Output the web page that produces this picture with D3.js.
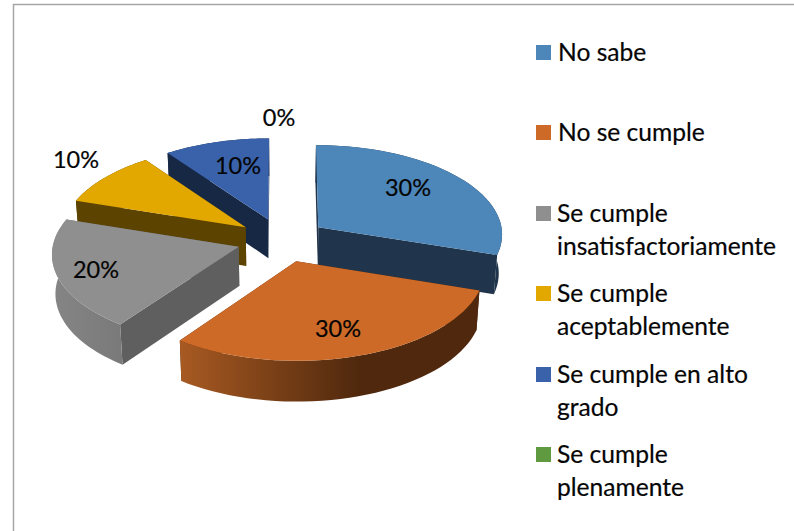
<!DOCTYPE html>
<html><head><meta charset="utf-8">
<script src="https://cdn.jsdelivr.net/npm/d3@7"></script>
<style>html,body{margin:0;background:#fff}svg{display:block}text{font-family:Lato,"Open Sans",sans-serif;fill:#050505;stroke:#050505;stroke-width:.2}</style>
</head><body><svg id="c" width="794" height="531"></svg>
<script>
const categories = ["No sabe","No se cumple","Se cumple insatisfactoriamente","Se cumple aceptablemente","Se cumple en alto grado","Se cumple plenamente"];
const values = [30,30,20,10,10,0];
const topColors = ["#4d86b9","#ce6a27","#8f8f8f","#e2a800","#3a62aa","#5f9a40"];
const faceColors = ["#20354b","#54290e","#5f5f5f","#5c4300","#172845","#2b4a1c"];
const wallShades = [["#20354b","#20354b"],["#a85a22","#4f280d"],["#858585","#7a7a7a"],["#5c4300","#5c4300"],["#172845","#172845"],["#2b4a1c","#2b4a1c"]];
const legendLines = [["No sabe"],["No se cumple"],["Se cumple","insatisfactoriamente"],["Se cumple","aceptablemente"],["Se cumple en alto","grado"],["Se cumple","plenamente"]];
const legendTop = [45,125,206,286,367,447];
const labelAt = [[408,188],[338,329],[96,270],[76,160],[238,166],[279,118]];
const paintOrder = [4,3,0,2,1];

const svg = d3.select("#c");
svg.append("path").attr("d","M13.5 531V4.5H794").attr("fill","none").attr("stroke","#a6a6a6").attr("stroke-width",1.5);

// Perspective view of the tilted disc; units are disc radii, z points away from the viewer.
const cx=282, cy=240, R=185, Ry=89.5, persp=0.07, burst=0.245, depth=39;
const project=(X,Z)=>{const w=1+persp*Z;return [cx+R*X/w, cy-Ry*Z/w];};
// The underside sits slightly further from the eye, so it narrows toward the centre.
const down=p=>[cx+(p[0]-cx)*0.985, p[1]+depth+(p[1]-cy)*0.015];

const pie=d3.pie().value(d=>d).sort(null);
const arcs=pie(values);
const defs=svg.append("defs");
const line=d3.line();

function outline(a){
  const mid=(a.startAngle+a.endAngle)/2, ox=burst*Math.sin(mid), oz=burst*Math.cos(mid);
  const pt=t=>project(ox+Math.sin(t),oz+Math.cos(t));
  const steps=d3.range(0,41).map(i=>a.startAngle+(a.endAngle-a.startAngle)*i/40);
  return {apex:project(ox,oz),rim:steps.map(pt)};
}

paintOrder.forEach(i=>{
  const o=outline(arcs[i]);
  const g=svg.append("g");
  const rim=o.rim;
  // straight cut faces sit behind the curved wall
  [rim[0],rim[rim.length-1]].forEach(e=>{
    g.append("path").attr("d",line([o.apex,e,down(e),down(o.apex)])+"Z").attr("fill",faceColors[i]);
  });
  const wall=rim.concat(rim.slice().reverse().map(down));
  const id="w"+i, xs=d3.extent(rim,p=>p[0]);
  const lg=defs.append("linearGradient").attr("id",id).attr("gradientUnits","userSpaceOnUse")
    .attr("x1",xs[0]).attr("x2",i===1?xs[0]+(xs[1]-xs[0])*0.6:xs[1]).attr("y1",0).attr("y2",0);
  lg.append("stop").attr("offset",0).attr("stop-color",wallShades[i][0]);
  lg.append("stop").attr("offset",1).attr("stop-color",wallShades[i][1]);
  g.append("path").attr("d",line(wall)+"Z").attr("fill",`url(#${id})`);
  g.append("path").attr("d",line([o.apex].concat(rim))+"Z").attr("fill",topColors[i]);
});

values.forEach((v,i)=>{
  svg.append("text").attr("x",labelAt[i][0]).attr("y",labelAt[i][1]+8).attr("text-anchor","middle")
    .attr("font-size",23.5).text(v+"%");
});

categories.forEach((c,i)=>{
  const g=svg.append("g").attr("aria-label",c);
  g.append("rect").attr("x",536).attr("y",legendTop[i]).attr("width",15).attr("height",15).attr("fill",topColors[i]);
  legendLines[i].forEach((t,j)=>{
    g.append("text").attr("x",i<2?558:557).attr("y",legendTop[i]+16+j*32.5).attr("font-size",24.6).text(t);
  });
});
</script></body></html>
